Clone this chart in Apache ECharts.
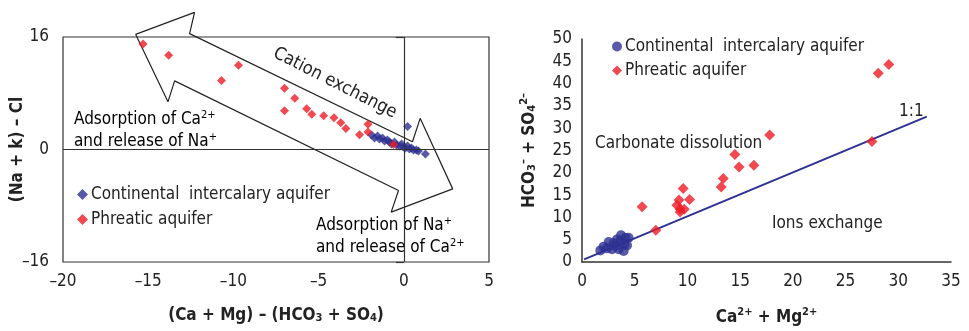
<!DOCTYPE html>
<html>
<head>
<meta charset="utf-8">
<script src="https://cdn.jsdelivr.net/npm/echarts@6/dist/echarts.min.js"></script>
<style>
  html, body { margin: 0; padding: 0; background: #fff; }
  #chart { width: 969px; height: 331px; }
</style>
</head>
<body>
<div id="chart"></div>
<script>
// left panel: (Ca + Mg) - (HCO3 + SO4) vs (Na + k) - Cl
const leftCi = [
  [-1.89, 2.06], [-1.72, 1.63], [-1.54, 1.91], [-1.43, 1.49], [-1.25, 1.63],
  [-1.13, 1.21], [-0.96, 1.35], [-0.84, 1.06], [-0.72, 0.78], [-0.55, 1.06],
  [-0.43, 0.64], [-0.25, 0.5], [-0.13, 0.78], [-0.02, 0.35], [0.1, 0.21],
  [0.22, 0.5], [0.33, 0.07], [0.45, 0.21], [0.57, -0.07], [0.74, -0.07],
  [0.86, -0.21], [0.22, 3.26], [1.27, -0.64]
];
const leftPh = [
  [-15.3, 15.0], [-13.8, 13.4], [-9.7, 12.0], [-10.7, 9.8], [-7.0, 8.7],
  [-6.4, 7.3], [-7.0, 5.5], [-5.7, 5.8], [-5.4, 5.0], [-4.7, 4.8],
  [-4.1, 4.5], [-3.7, 3.8], [-3.4, 3.0], [-2.1, 3.6], [-2.1, 2.5],
  [-2.6, 2.1], [-0.6, 0.7]
];
// outline of the double arrow, in data units of the left panel
const arrowOutline = [
  [-15.74, 16.38], [-12.28, 19.5], [-12.57, 16.48], [0.51, 1.11], [0.96, 4.43],
  [2.87, -5.6], [-0.74, -8.91], [-0.31, -5.84], [-13.45, 9.76], [-13.84, 6.78],
  [-15.74, 16.38]
];
const leftXTicks = [-20, 5, 5];   // min, max, interval
const leftYTicks = [-16, 16, 16];

// right panel: Ca2+ + Mg2+ vs HCO3- + SO4 2-
const rightCi = [
  [1.74, 2.6], [2.37, 3.06], [2.53, 4.47], [3.16, 3.58], [3.48, 2.84],
  [3.63, 4.69], [3.7, 5.97], [4.11, 5.45], [4.42, 5.45], [4.27, 3.73],
  [3.95, 2.46], [3.0, 4.18], [2.05, 3.44], [2.85, 2.84], [3.32, 5.07],
  [4.01, 3.96]
];
const rightPh = [
  [29.1, 44.3], [28.1, 42.3], [27.5, 27.0], [17.8, 28.5], [14.5, 24.1],
  [14.9, 21.3], [16.3, 21.7], [13.4, 18.7], [13.2, 16.8], [9.6, 16.5],
  [10.2, 14.0], [9.2, 13.9], [9.0, 12.7], [9.3, 11.9], [9.7, 11.8],
  [9.3, 11.2], [5.7, 12.4], [7.0, 7.1]
];
const oneToOne = [[0.2, 0.6], [32.7, 32.6]];
const rightXTicks = [0, 35, 5];
const rightYTicks = [0, 50, 5];

const CI = 'Continental  intercalary aquifer';
const PH = 'Phreatic aquifer';
const BLUE = '#2e3192';
const RED = '#ee1c25';
const FONT = "'Liberation Sans Narrow', 'DejaVu Sans Condensed', sans-serif";
const AX = '#333';

const dash = v => String(v).replace('-', '\u2013');

const rich = {
  n: { fontSize: 17, fontFamily: FONT, color: '#222', lineHeight: 22, verticalAlign: 'bottom' },
  b: { fontSize: 17, fontFamily: FONT, fontWeight: 'bold', color: '#222', lineHeight: 22, verticalAlign: 'bottom' },
  sup: { fontSize: 11, fontFamily: FONT, color: '#222', lineHeight: 22, verticalAlign: 'top', padding: [4, 0, 0, 0] },
  bsup: { fontSize: 11, fontFamily: FONT, fontWeight: 'bold', color: '#222', lineHeight: 22, verticalAlign: 'top', padding: [3, 0, 0, 0] },
  bsub: { fontSize: 11, fontFamily: FONT, fontWeight: 'bold', color: '#222', lineHeight: 22, verticalAlign: 'bottom' }
};

const chart = echarts.init(document.getElementById('chart'));

const valueAxisBase = {
  type: 'value',
  splitLine: { show: false },
  axisLine: { show: true, onZero: false, lineStyle: { color: AX, width: 1.5 } },
  axisLabel: { fontSize: 17, fontFamily: FONT, color: '#222' },
  nameLocation: 'middle',
  nameMoveOverlap: false
};

chart.setOption({
  animation: false,
  grid: [
    { left: 63, right: 480, top: 37, bottom: 69, show: true, borderColor: AX, borderWidth: 1.2 },
    { left: 582, right: 18, top: 39, bottom: 68 }
  ],
  legend: [
    {
      orient: 'vertical', left: 72, top: 181, itemGap: 8, itemWidth: 11, itemHeight: 11,
      textStyle: { fontSize: 17, fontFamily: FONT, color: '#222', padding: [0, 0, 0, -2] },
      data: [{ name: CI, icon: 'diamond', itemStyle: { color: BLUE } }, { name: PH, icon: 'diamond', itemStyle: { color: RED } }],
      selectedMode: false
    },
    {
      orient: 'vertical', left: 607, top: 33, itemGap: 7, itemWidth: 10, itemHeight: 10,
      textStyle: { fontSize: 17, fontFamily: FONT, color: '#222', padding: [0, 0, 0, -2] },
      data: [{ name: CI, icon: 'circle', itemStyle: { color: BLUE } }, { name: PH, icon: 'diamond', itemStyle: { color: RED } }],
      selectedMode: false
    }
  ],
  xAxis: [
    Object.assign({}, valueAxisBase, {
      gridIndex: 0, min: leftXTicks[0], max: leftXTicks[1], interval: leftXTicks[2],
      axisLine: { show: false },
      axisTick: { show: false },
      axisLabel: Object.assign({}, valueAxisBase.axisLabel, { margin: 11, formatter: dash }),
      name: '{b|(Ca + Mg) \u2013 (HCO}{bsub|3}{b| + SO}{bsub|4}{b|)}',
      nameGap: 40,
      nameTextStyle: { rich: rich }
    }),
    Object.assign({}, valueAxisBase, {
      gridIndex: 1, min: rightXTicks[0], max: rightXTicks[1], interval: rightXTicks[2],
      axisTick: { show: false },
      axisLabel: Object.assign({}, valueAxisBase.axisLabel, { margin: 11 }),
      name: '{b|Ca}{bsup|2+}{b| + Mg}{bsup|2+}',
      nameGap: 42,
      nameTextStyle: { rich: rich }
    })
  ],
  yAxis: [
    Object.assign({}, valueAxisBase, {
      gridIndex: 0, min: leftYTicks[0], max: leftYTicks[1], interval: leftYTicks[2],
      axisLine: { show: false },
      axisTick: { show: true, length: 8, lineStyle: { color: AX, width: 1.2 } },
      axisLabel: Object.assign({}, valueAxisBase.axisLabel, { margin: 14, formatter: dash }),
      name: '{b|(Na + k) \u2013 Cl}',
      nameGap: 37,
      nameTextStyle: { rich: rich }
    }),
    Object.assign({}, valueAxisBase, {
      gridIndex: 1, min: rightYTicks[0], max: rightYTicks[1], interval: rightYTicks[2],
      axisTick: { show: false },
      axisLabel: Object.assign({}, valueAxisBase.axisLabel, { margin: 10 }),
      name: '{b|HCO}{bsub|3}{bsup|\u2013}{b| + SO}{bsub|4}{bsup|2\u2013}',
      nameGap: 44,
      nameTextStyle: { rich: rich }
    })
  ],
  series: [
    {
      type: 'line', xAxisIndex: 0, yAxisIndex: 0, data: arrowOutline,
      clip: false, symbol: 'none', silent: true, z: 1,
      lineStyle: { color: '#222', width: 1.2 },
      markLine: {
        silent: true, symbol: 'none', label: { show: false },
        lineStyle: { color: AX, type: 'solid', width: 1.2 },
        data: [{ xAxis: 0 }, { yAxis: 0 }]
      }
    },
    {
      name: CI, type: 'scatter', xAxisIndex: 0, yAxisIndex: 0, data: leftCi,
      symbol: 'diamond', symbolSize: 9, itemStyle: { color: BLUE }, z: 3
    },
    {
      name: PH, type: 'scatter', xAxisIndex: 0, yAxisIndex: 0, data: leftPh,
      symbol: 'diamond', symbolSize: 9, itemStyle: { color: RED }, z: 4
    },
    {
      type: 'line', xAxisIndex: 1, yAxisIndex: 1, data: oneToOne,
      symbol: 'none', silent: true, z: 2,
      lineStyle: { color: BLUE, width: 2 }
    },
    {
      name: CI, type: 'scatter', xAxisIndex: 1, yAxisIndex: 1, data: rightCi,
      symbol: 'circle', symbolSize: 10, itemStyle: { color: BLUE }, z: 3
    },
    {
      name: PH, type: 'scatter', xAxisIndex: 1, yAxisIndex: 1, data: rightPh,
      symbol: 'diamond', symbolSize: 11, itemStyle: { color: RED }, z: 4
    }
  ],
  graphic: [
    { type: 'text', left: 74, top: 106, style: { text: '{n|Adsorption of Ca}{sup|2+}\n{n|and release of Na}{sup|+}', rich: rich } },
    { type: 'text', left: 316, top: 212, style: { text: '{n|Adsorption of Na}{sup|+}\n{n|and release of Ca}{sup|2+}', rich: rich } },
    { type: 'text', x: 335, y: 83, rotation: -0.47,
      style: { text: 'Cation exchange', fontSize: 18, fontFamily: FONT, fill: '#222', align: 'center', verticalAlign: 'middle' } },
    { type: 'text', left: 595, top: 135, style: { text: 'Carbonate dissolution', fontSize: 17, fontFamily: FONT, fill: '#222' } },
    { type: 'text', left: 772, top: 215, style: { text: 'Ions exchange', fontSize: 17, fontFamily: FONT, fill: '#222' } },
    { type: 'text', left: 899, top: 103, style: { text: '1:1', fontSize: 17, fontFamily: FONT, fill: '#222' } }
  ]
});
</script>
</body>
</html>
